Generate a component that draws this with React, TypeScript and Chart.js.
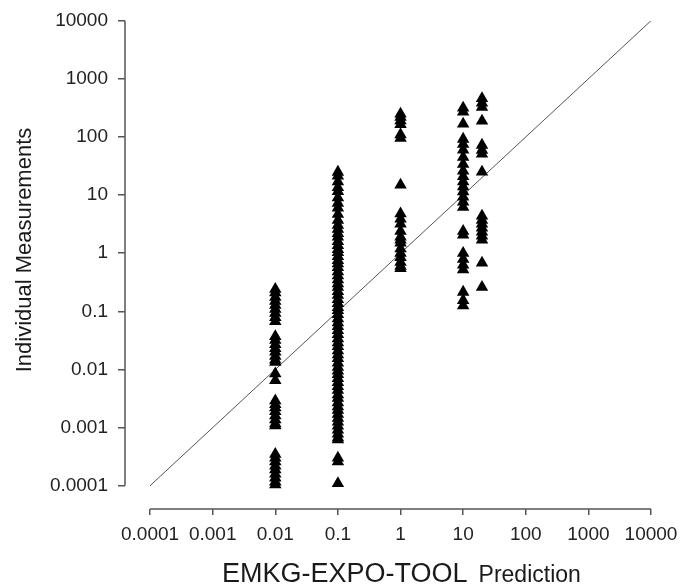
import React, { useEffect, useRef } from 'react';
import { Chart, registerables } from 'chart.js';

Chart.register(...registerables);

// Axis ticks (log scale, powers of ten)
const tickValues = [0.0001, 0.001, 0.01, 0.1, 1, 10, 100, 1000, 10000];
const tickLabels = ['0.0001', '0.001', '0.01', '0.1', '1', '10', '100', '1000', '10000'];

// Predicted values (x) where measurements are stacked
const predictionCategories = [0.01, 0.1, 1, 10, 20];

// Individual measurements (y) per prediction category
const measuredAt0_01 = [
  0.24, 0.21, 0.175, 0.15, 0.128, 0.109, 0.093, 0.079, 0.067,
  0.037, 0.032, 0.027, 0.023, 0.02, 0.017, 0.0146, 0.0134,
  0.0085, 0.0065,
  0.0029, 0.0025, 0.0022, 0.0019, 0.0016, 0.00137, 0.00117, 0.00108,
  0.00035, 0.0003, 0.00026, 0.00022, 0.00019, 0.00016, 0.000137, 0.000117, 0.000104,
];
const measuredAt0_1 = [
  24.9, 21.4, 17, 13.5, 11.6, 9, 7.3, 6, 4.7, 3.7, 3.05, 2.6, 2.2, 1.9, 1.6, 1.36,
  1.16, 1.03, 0.88, 0.75, 0.66, 0.57, 0.48, 0.41, 0.35, 0.3, 0.26, 0.22, 0.19, 0.16,
  0.137, 0.117, 0.104, 0.089, 0.075, 0.064, 0.055, 0.047, 0.04, 0.034, 0.029, 0.025,
  0.021, 0.018, 0.0155, 0.013, 0.011, 0.0095, 0.0082, 0.007, 0.006, 0.0051, 0.0044,
  0.0037, 0.0032, 0.0027, 0.0023, 0.002, 0.0017, 0.00145, 0.00125, 0.00107, 0.00091,
  0.00078, 0.00067, 0.00062, 0.0003, 0.00026, 0.00011,
];
const measuredAt1 = [
  250, 220, 190, 165, 110, 95,
  15,
  4.8, 3.9, 3.2, 2.4, 1.9, 1.7, 1.5, 1.2, 1.0, 0.85, 0.7, 0.6, 0.55,
];
const measuredAt10 = [
  315, 270, 167,
  92, 75, 60, 45, 34, 26, 21, 17, 14, 11.5, 9.3, 7.6, 6.2,
  2.4, 2.06,
  1.0, 0.79, 0.63, 0.52,
  0.215, 0.155, 0.125,
];
const measuredAt20 = [
  460, 384, 327, 188,
  72.6, 59.6, 51,
  25,
  4.37, 3.72, 3.18, 2.73, 2.33, 1.99, 1.7,
  0.68,
  0.26,
];
const measurementSeries = [measuredAt0_01, measuredAt0_1, measuredAt1, measuredAt10, measuredAt20];

// 1:1 reference line
const identityLine = [0.0001, 10000];

const FONT = '"Liberation Sans", Arial, Helvetica, sans-serif';

const customAxesPlugin = {
  id: 'customAxes',
  afterDraw(chart: any) {
    const { ctx, scales } = chart;
    const x = scales.x;
    const y = scales.y;
    const area = chart.chartArea;
    ctx.save();
    ctx.strokeStyle = '#555';
    ctx.lineWidth = 1.5;
    // y axis line
    ctx.beginPath();
    ctx.moveTo(area.left, y.getPixelForValue(tickValues[tickValues.length - 1]));
    ctx.lineTo(area.left, y.getPixelForValue(tickValues[0]));
    ctx.stroke();
    // x axis line
    ctx.beginPath();
    ctx.moveTo(x.getPixelForValue(tickValues[0]), area.bottom);
    ctx.lineTo(x.getPixelForValue(tickValues[tickValues.length - 1]), area.bottom);
    ctx.stroke();

    // titles
    ctx.fillStyle = '#1a1a1a';
    ctx.textBaseline = 'alphabetic';
    ctx.textAlign = 'left';
    ctx.font = `27px ${FONT}`;
    const part1 = 'EMKG-EXPO-TOOL';
    ctx.fillText(part1, 222, 582);
    const w1 = ctx.measureText(part1).width;
    ctx.font = `23px ${FONT}`;
    ctx.fillText('Prediction', 222 + w1 + 11, 582);

    ctx.translate(25, 250);
    ctx.rotate(-Math.PI / 2);
    ctx.textAlign = 'center';
    ctx.textBaseline = 'middle';
    ctx.font = `22px ${FONT}`;
    ctx.fillText('Individual Measurements', 0, 0);
    ctx.restore();
  },
};

export default function App() {
  const canvasRef = useRef<HTMLCanvasElement | null>(null);

  useEffect(() => {
    if (!canvasRef.current) return;
    const points: { x: number; y: number }[] = [];
    predictionCategories.forEach((cat, i) => {
      measurementSeries[i].forEach((v) => points.push({ x: cat, y: v }));
    });

    const logAxis = (isX: boolean) => ({
      type: 'logarithmic' as const,
      min: 3.98e-5,
      max: 10000,
      afterBuildTicks: (axis: any) => {
        axis.ticks = tickValues.map((v) => ({ value: v }));
      },
      afterFit: (axis: any) => {
        if (isX) axis.height = 76;
        else axis.width = 125;
        axis.paddingLeft = 0;
        axis.paddingRight = 0;
        axis.paddingTop = 0;
        axis.paddingBottom = 0;
      },
      border: { display: false },
      grid: {
        drawOnChartArea: false,
        drawTicks: true,
        tickLength: isX ? 6 : 7,
        color: '#555',
        lineWidth: 1.5,
      },
      ticks: {
        autoSkip: false,
        maxRotation: 0,
        padding: isX ? 8 : 10,
        color: '#222',
        font: { family: FONT, size: 19 },
        callback: (_v: any, index: number) => tickLabels[index] ?? '',
      },
    });

    const chart = new Chart(canvasRef.current, {
      type: 'scatter',
      data: {
        datasets: [
          {
            type: 'line',
            data: identityLine.map((v) => ({ x: v, y: v })),
            borderColor: '#555',
            borderWidth: 1,
            pointRadius: 0,
            showLine: true,
            fill: false,
            order: 2,
          } as any,
          {
            data: points,
            pointStyle: 'triangle',
            pointRadius: 7.2,
            pointBackgroundColor: '#000',
            pointBorderColor: '#000',
            pointBorderWidth: 0,
            order: 1,
          },
        ],
      },
      options: {
        animation: false,
        responsive: false,
        layout: { padding: { top: 20.7, right: 30, left: 0, bottom: 0 } },
        plugins: {
          legend: { display: false },
          tooltip: { enabled: false },
        },
        scales: {
          x: logAxis(true) as any,
          y: logAxis(false) as any,
        },
      },
      plugins: [customAxesPlugin],
    });
    return () => chart.destroy();
  }, []);

  return (
    <div style={{ position: 'absolute', left: 0, top: 0, width: 681, height: 585, background: '#fff' }}>
      <canvas ref={canvasRef} width={681} height={585} />
    </div>
  );
}
